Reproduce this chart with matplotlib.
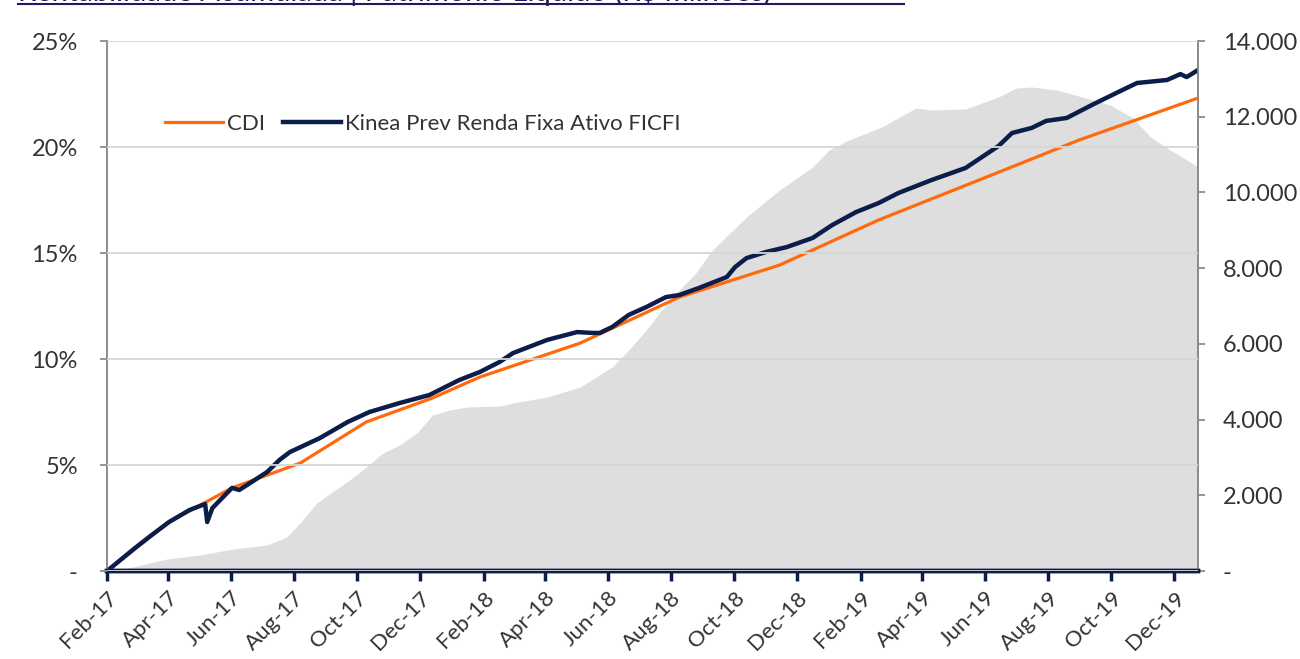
import numpy as np
import pandas as pd
import matplotlib
matplotlib.use("Agg")
import matplotlib.pyplot as plt
import matplotlib.dates as mdates
from matplotlib.ticker import FuncFormatter, MultipleLocator
from matplotlib.lines import Line2D

plt.rcParams['font.family'] = ['Lato', 'DejaVu Sans']

# Kinea Prev Renda Fixa Ativo FICFI - rentabilidade acumulada (%)
fund_dates = ["2017-02-01", "2017-02-14", "2017-02-28", "2017-03-15", "2017-04-02",
              "2017-04-22", "2017-05-07", "2017-05-09", "2017-05-14", "2017-06-02",
              "2017-06-09", "2017-07-06", "2017-07-18", "2017-07-28", "2017-08-26",
              "2017-09-22", "2017-10-13", "2017-11-11", "2017-12-10", "2018-01-08",
              "2018-01-28", "2018-02-16", "2018-03-01", "2018-04-03", "2018-05-02",
              "2018-05-17", "2018-05-24", "2018-06-05", "2018-06-21", "2018-07-08",
              "2018-07-27", "2018-08-09", "2018-08-28", "2018-09-24", "2018-10-02",
              "2018-10-13", "2018-11-01", "2018-11-21", "2018-12-16", "2019-01-04",
              "2019-01-27", "2019-02-18", "2019-03-09", "2019-04-10", "2019-05-13",
              "2019-06-14", "2019-06-27", "2019-07-16", "2019-07-30", "2019-08-19",
              "2019-09-13", "2019-10-06", "2019-10-26", "2019-11-24", "2019-12-07",
              "2019-12-13", "2019-12-24"]
fund_values = [0.00, 0.52, 1.08, 1.65, 2.31,
               2.88, 3.16, 2.31, 2.97, 3.92,
               3.82, 4.67, 5.24, 5.61, 6.27,
               7.03, 7.50, 7.92, 8.30, 9.01,
               9.39, 9.86, 10.28, 10.90, 11.27,
               11.23, 11.23, 11.51, 12.08, 12.45,
               12.92, 13.02, 13.35, 13.87, 14.34,
               14.76, 15.05, 15.28, 15.71, 16.32,
               16.93, 17.36, 17.83, 18.44, 19.01,
               20.05, 20.66, 20.90, 21.23, 21.37,
               22.00, 22.55, 23.02, 23.16, 23.44,
               23.30, 23.63]

# CDI - rentabilidade acumulada (%)
cdi_dates = ["2017-02-01", "2017-04-02", "2017-06-02", "2017-08-07", "2017-10-10",
             "2017-12-13", "2018-01-28", "2018-05-05", "2018-08-09", "2018-11-14",
             "2019-02-18", "2019-05-26", "2019-08-31", "2019-12-24"]
cdi_values = [0.00, 2.31, 3.92, 5.09, 7.03,
              8.16, 9.15, 10.75, 12.92, 14.43,
              16.56, 18.44, 20.33, 22.31]

# Patrimonio liquido (R$ milhoes)
pl_dates = ["2017-02-01", "2017-02-26", "2017-03-31", "2017-05-02", "2017-06-03",
            "2017-07-06", "2017-07-25", "2017-08-07", "2017-08-23", "2017-09-07",
            "2017-09-24", "2017-10-10", "2017-10-26", "2017-11-11", "2017-11-28",
            "2017-12-13", "2017-12-30", "2018-01-15", "2018-02-16", "2018-03-01",
            "2018-04-03", "2018-05-05", "2018-06-05", "2018-06-21", "2018-07-08",
            "2018-07-23", "2018-08-09", "2018-08-25", "2018-09-10", "2018-09-27",
            "2018-10-13", "2018-11-14", "2018-12-16", "2019-01-01", "2019-01-20",
            "2019-02-21", "2019-03-26", "2019-04-10", "2019-05-13", "2019-05-29",
            "2019-06-14", "2019-07-01", "2019-07-16", "2019-08-09", "2019-09-03",
            "2019-09-30", "2019-10-22", "2019-11-08", "2019-11-24", "2019-12-10",
            "2019-12-24"]
pl_values = [0, 106, 317, 423, 581,
             687, 898, 1268, 1796, 2087,
             2404, 2747, 3117, 3328, 3645,
             4121, 4253, 4332, 4358, 4438,
             4596, 4860, 5389, 5838, 6366,
             6894, 7423, 7872, 8479, 8928,
             9351, 10064, 10672, 11121, 11385,
             11728, 12230, 12177, 12204, 12362,
             12521, 12758, 12785, 12706, 12521,
             12309, 11966, 11464, 11173, 10909,
             10672]

NAVY = "#0b1d48"
ORANGE = "#ff6a0d"
GRAY_FILL = "#dedede"
TEXT = "#333333"

fund = pd.Series(fund_values, index=pd.to_datetime(fund_dates))
cdi = pd.Series(cdi_values, index=pd.to_datetime(cdi_dates))
pl = pd.Series(pl_values, index=pd.to_datetime(pl_dates))

fig = plt.figure(figsize=(13, 6.59), dpi=100)
ax = fig.add_axes([107 / 1300, 88 / 659, 1091 / 1300, 530 / 659])
ax2 = ax.twinx()

# patrimonio as grey area behind the return lines
ax2.fill_between(pl.index, pl.values, 0, color=GRAY_FILL, lw=0)
ax2.set_ylim(0, 14000)
ax2.yaxis.set_major_locator(MultipleLocator(2000))
ax2.yaxis.set_major_formatter(FuncFormatter(
    lambda v, p: "-" if v == 0 else f"{v:,.0f}".replace(",", ".")))

ax.set_zorder(ax2.get_zorder() + 1)
ax.patch.set_visible(False)

ax.plot(cdi.index, cdi.values, color=ORANGE, lw=2.3, label="CDI")
ax.plot(fund.index, fund.values, color=NAVY, lw=3.2,
        label="Kinea Prev Renda Fixa Ativo FICFI")

ax.set_ylim(0, 25)
ax.yaxis.set_major_locator(MultipleLocator(5))
ax.yaxis.set_major_formatter(FuncFormatter(
    lambda v, p: "-" if v == 0 else f"{v:.0f}%"))
ax.grid(axis="y", color="#d6d6d6", lw=1.3)
ax.set_axisbelow(False)

ax.set_xlim(pd.Timestamp("2017-02-01"), pd.Timestamp("2019-12-24"))
ax.xaxis.set_major_locator(mdates.MonthLocator(bymonth=[2, 4, 6, 8, 10, 12]))
ax.xaxis.set_major_formatter(mdates.DateFormatter("%b-%y"))
for lbl in ax.get_xticklabels():
    lbl.set_rotation(45)
    lbl.set_ha("right")
    lbl.set_rotation_mode("anchor")

for a in (ax, ax2):
    a.spines["top"].set_visible(False)
    a.spines["left"].set_color("#8c8c8c")
    a.spines["right"].set_color("#8c8c8c")
    a.spines["left"].set_linewidth(1.3)
    a.spines["right"].set_linewidth(1.3)
    a.spines["bottom"].set_color(NAVY)
    a.spines["bottom"].set_linewidth(3.2)

ax.tick_params(axis="x", colors=NAVY, length=7, width=2.5, pad=5,
               labelsize=16, labelcolor=TEXT)
ax.tick_params(axis="y", colors="#8c8c8c", length=5, width=1.3, pad=16,
               labelsize=17, labelcolor=TEXT)
ax2.tick_params(axis="y", colors="#8c8c8c", length=5, width=1.3, pad=13,
                labelsize=17, labelcolor=TEXT)

ax.legend(loc="upper left", bbox_to_anchor=(0.035, 0.9), ncol=2, frameon=False,
          fontsize=16, handlelength=2.6, handletextpad=0.2, columnspacing=0.8,
          labelcolor=TEXT)

# title, cut off at the top edge of the picture
fig.text(18 / 1300, 1 - 1 / 659, "Rentabilidade Acumulada | Patrimônio Líquido (R$ milhões)",
         fontsize=21, color="#1f1b5c", ha="left", va="baseline")
fig.add_artist(Line2D([18 / 1300, 904 / 1300], [1 - 3.5 / 659, 1 - 3.5 / 659],
                      color="#1f1b5c", lw=1.5))

fig.savefig("out.png", dpi=100)
